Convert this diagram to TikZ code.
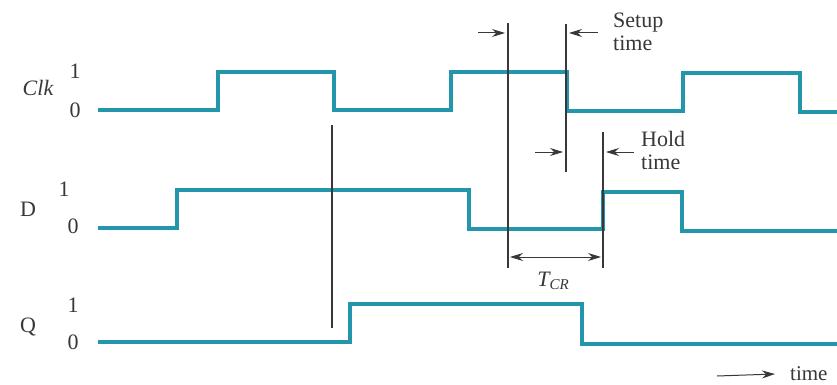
\documentclass[tikz,border=0pt]{standalone}
\usepackage{fontspec}
\setmainfont{Liberation Serif}
\usetikzlibrary{arrows.meta}
\definecolor{sig}{RGB}{35,150,172}
\definecolor{ink}{RGB}{55,55,60}
\begin{document}
\begin{tikzpicture}[x=1pt,y=-1pt,
  wave/.style={draw=sig,line width=3.2pt,line join=miter},
  guide/.style={draw=ink,line width=1.1pt},
  tip/.style={-{Stealth[length=13pt,width=8pt]}},
  dimarrow/.style={draw=ink,line width=1pt,tip},
  lbl/.style={font=\fontsize{22}{24}\selectfont,text=ink,inner sep=0pt},
  note/.style={lbl,align=left,anchor=west,font=\fontsize{22}{23}\selectfont},
]
\useasboundingbox[fill=white] (0,0) rectangle (837,385);
% waveforms
\draw[wave] (98,110) -- (218,110) -- (218,72) -- (334,72) -- (334,110) -- (451,110) -- (451,72) -- (567,72) -- (567,111) -- (683,111) -- (683,73) -- (800,73) -- (800,112) -- (837,112);
\draw[wave] (98,228) -- (177,228) -- (177,190) -- (469,190) -- (469,229) -- (603,229) -- (603,192) -- (682,192) -- (682,231) -- (837,231);
\draw[wave] (98,342) -- (350,342) -- (350,304) -- (582,304) -- (582,344) -- (837,344);
% labels
\node[lbl,font=\fontsize{22}{24}\selectfont\itshape] (clk) at (38,88) {Clk};
\node[lbl] (clk1) at (75,71) {1};
\node[lbl] (clk0) at (75,110) {0};
\node[lbl] (d) at (28,209) {D};
\node[lbl] (d1) at (64,189) {1};
\node[lbl] (d0) at (73,226) {0};
\node[lbl] (q) at (28,327) {Q};
\node[lbl] (q1) at (73,305) {1};
\node[lbl] (q0) at (73,342) {0};
% guide lines
\coordinate (v1t) at (332,125); \coordinate (v1b) at (332,328);
\coordinate (v2t) at (508,23);  \coordinate (v2b) at (508,268);
\coordinate (v3t) at (566,24);  \coordinate (v3b) at (566,172);
\coordinate (v4t) at (603,132); \coordinate (v4b) at (603,268);
\draw[guide] (v1t) -- (v1b);
\draw[guide] (v2t) -- (v2b);
\draw[guide] (v3t) -- (v3b);
\draw[guide] (v4t) -- (v4b);
% setup arrows
\coordinate (s1) at (478,33); \coordinate (s1e) at (505,33);
\coordinate (s2) at (598,33); \coordinate (s2e) at (569,33);
\draw[dimarrow] (s1) -- (s1e);
\draw[dimarrow] (s2) -- (s2e);
% hold arrows
\coordinate (h1) at (535,152); \coordinate (h1e) at (563,152);
\coordinate (h2) at (634,152); \coordinate (h2e) at (606,152);
\draw[dimarrow] (h1) -- (h1e);
\draw[dimarrow] (h2) -- (h2e);
% TCR
\coordinate (t1) at (510,257); \coordinate (t2) at (601,257);
\draw[draw=ink,line width=1pt,{Stealth[length=13pt,width=8pt]}-{Stealth[length=13pt,width=8pt]}] (t1) -- (t2);
\node[lbl] (tcr) at (553,281) {\itshape T\raisebox{-0.35ex}{\fontsize{15}{15}\selectfont\itshape CR}};
\node[note] (setup) at (613,32) {Setup\\time};
\node[note] (hold) at (641,150) {Hold\\time};
% time arrow
\coordinate (ta) at (717,376);
\node[note,anchor=west,font=\fontsize{21}{23}\selectfont] (time) at (790,374) {time};
\draw[dimarrow] (ta) -- (time.west -| 775,0);
\end{tikzpicture}
\end{document}
